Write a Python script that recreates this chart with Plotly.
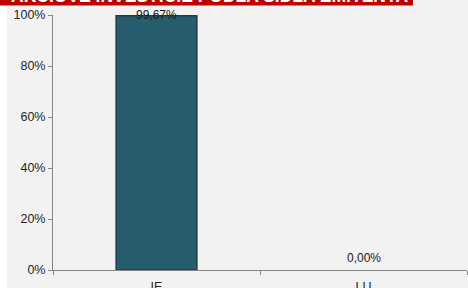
import plotly.graph_objects as go

categories = ["IE", "LU"]
values = [99.67, 0.00]
labels = ["99,67%", "0,00%"]
y_ticks = [0, 20, 40, 60, 80, 100]
y_tick_labels = ["0%", "20%", "40%", "60%", "80%", "100%"]
title_text = "AKCIOVÉ INVESTÍCIE PODĽA SÍDLA EMITENTA"

W, H = 468, 288
ml, mr, mt, mb = 53, 1, 15, 18
pw, ph = W - ml - mr, H - mt - mb
FONT = "Arial, Liberation Sans, sans-serif"

def px_x(p):
    return (p - ml) / pw

def px_y(p):
    return (H - mb - p) / ph

fig = go.Figure()
fig.add_trace(go.Bar(
    x=categories, y=values,
    marker=dict(color="#265c6b",
                line=dict(color="#183f4a", width=[1.5 if v > 0 else 0 for v in values])),
    width=0.39,
    hoverinfo="skip",
))

annotations = []
for c, v, t in zip(categories, values, labels):
    # label sits ~12px above the bar end, clamped inside the plot area
    room_px = (100 - v) / 100 * ph
    shift = min(12, room_px)
    annotations.append(dict(
        x=c, y=v, xref="x", yref="y", text=t, showarrow=False,
        yanchor="middle", yshift=shift,
        font=dict(family=FONT, size=12, color="#1a1a1a"),
    ))

annotations.append(dict(
    text="<b>" + title_text + "</b>", xref="paper", yref="paper",
    x=px_x(9), y=px_y(8), xanchor="left", yanchor="bottom",
    showarrow=False, font=dict(family=FONT, size=17.5, color="white"),
))

fig.update_layout(
    width=W, height=H,
    margin=dict(l=ml, r=mr, t=mt, b=mb, autoexpand=False),
    paper_bgcolor="#f2f2f2",
    plot_bgcolor="#f2f2f2",
    showlegend=False,
    font=dict(family=FONT, size=12, color="#262626"),
    xaxis=dict(
        showgrid=False, showline=True, linecolor="#868686", linewidth=1,
        ticks="outside", tickson="boundaries", ticklen=4, tickcolor="#868686",
        tickfont=dict(size=12.5, color="#262626"), automargin=False,
        ticklabelstandoff=5,
    ),
    yaxis=dict(
        range=[0, 100], tickmode="array", tickvals=y_ticks, ticktext=y_tick_labels,
        showgrid=False, showline=True, linecolor="#868686", linewidth=1,
        ticks="outside", ticklen=4, tickcolor="#868686", zeroline=False,
        tickfont=dict(size=12.5, color="#262626"), automargin=False,
    ),
    shapes=[
        dict(type="rect", xref="paper", yref="paper", layer="below",
             x0=px_x(0), x1=px_x(7), y0=px_y(H), y1=px_y(0),
             fillcolor="white", line=dict(width=0)),
        dict(type="rect", xref="paper", yref="paper", layer="above",
             x0=px_x(0), x1=px_x(413), y0=px_y(5.5), y1=px_y(-5),
             fillcolor="#c00000", line=dict(width=0)),
    ],
    annotations=annotations,
)

fig.write_html("out.html", config={"displayModeBar": False},
               post_script="document.body.style.margin='0';document.body.style.padding='0';")
